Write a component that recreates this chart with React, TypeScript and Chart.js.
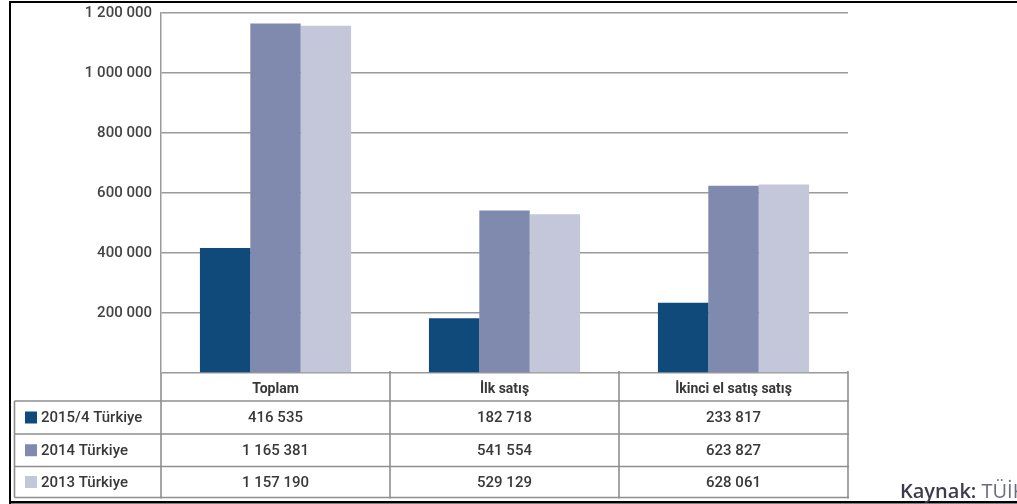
import React, { useEffect, useRef } from "react";
import { Chart, registerables } from "chart.js";

Chart.register(...registerables);

const categories = ["Toplam", "İlk satış", "İkinci el satış satış"];
const seriesLabels = ["2015/4 Türkiye", "2014 Türkiye", "2013 Türkiye"];
const values2015 = [416535, 182718, 233817];
const values2014 = [1165381, 541554, 623827];
const values2013 = [1157190, 529129, 628061];
const seriesColors = ["#0f4a7b", "#7f8aae", "#c4c7da"];
const yTicks = [0, 200000, 400000, 600000, 800000, 1000000, 1200000];
const sourceLabel = "Kaynak:";
const sourceName = "TÜİK";

const fmt = (n: number) => String(n).replace(/\B(?=(\d{3})+(?!\d))/g, " ");

const FONT = "Roboto, 'Open Sans', sans-serif";
const SRC_FONT = "'Open Sans', 'Noto Sans', sans-serif";

const tablePlugin = {
  id: "tablePlugin",
  afterDraw(chart: any) {
    const ctx = chart.ctx as CanvasRenderingContext2D;
    const area = chart.chartArea;
    const xs = chart.scales.x;
    const W = chart.width;
    const H = chart.height;
    const seriesValues = [values2015, values2014, values2013];
    const half = (xs.getPixelForValue(1) - xs.getPixelForValue(0)) / 2;
    const colEdges = [area.left];
    categories.forEach((_, i) => colEdges.push(xs.getPixelForValue(i) + half));

    const rowTop = 401;
    const rowLines = [401, 434, 466.5, 497.5];
    const tableLeft = 14.5;
    ctx.save();
    ctx.strokeStyle = "#8e8e8e";
    ctx.lineWidth = 1.6;
    rowLines.forEach((y) => {
      ctx.beginPath();
      ctx.moveTo(tableLeft, y);
      ctx.lineTo(colEdges[colEdges.length - 1] + 1, y);
      ctx.stroke();
    });
    ctx.beginPath();
    ctx.moveTo(tableLeft, rowTop);
    ctx.lineTo(tableLeft, rowLines[3]);
    ctx.stroke();
    colEdges.forEach((x, i) => {
      ctx.beginPath();
      ctx.moveTo(x, i === 0 ? area.bottom : area.bottom - 2);
      ctx.lineTo(x, rowLines[3] + 1);
      ctx.stroke();
    });

    ctx.fillStyle = "#383838";
    ctx.textAlign = "center";
    ctx.textBaseline = "middle";
    ctx.font = `700 14px ${FONT}`;
    categories.forEach((c, i) => {
      ctx.fillText(c, xs.getPixelForValue(i), (area.bottom + rowTop) / 2 + 2);
    });

    const rowCenters = [0, 1, 2].map((r) => (rowLines[r] + rowLines[r + 1]) / 2 + 1);
    ctx.font = `500 15px ${FONT}`;
    seriesValues.forEach((vals, r) => {
      vals.forEach((v, i) => {
        ctx.textAlign = "center";
        ctx.fillStyle = "#383838";
        ctx.fillText(fmt(v), xs.getPixelForValue(i), rowCenters[r]);
      });
      ctx.fillStyle = seriesColors[r];
      ctx.fillRect(25, rowCenters[r] - 7, 12, 12);
      ctx.fillStyle = "#383838";
      ctx.textAlign = "left";
      ctx.fillText(seriesLabels[r], 41, rowCenters[r]);
    });

    ctx.fillStyle = "#000000";
    ctx.fillRect(9, 1, W - 9, 2);
    ctx.fillRect(9, 1, 2, H - 1);
    ctx.fillRect(9, 501, W - 9, 2.5);

    ctx.textAlign = "left";
    ctx.textBaseline = "alphabetic";
    ctx.font = `600 20px ${SRC_FONT}`;
    ctx.fillStyle = "#3b3b4b";
    const x0 = 900;
    ctx.fillText(sourceLabel, x0, 498);
    const w = ctx.measureText(sourceLabel + " ").width;
    ctx.font = `400 20px ${SRC_FONT}`;
    ctx.fillStyle = "#6c6c80";
    ctx.fillText(sourceName, x0 + w, 498);
    ctx.restore();
  },
};

export default function App() {
  const ref = useRef<HTMLCanvasElement>(null);
  useEffect(() => {
    if (!ref.current) return;
    const chart = new Chart(ref.current, {
      type: "bar",
      data: {
        labels: categories,
        datasets: [
          { label: seriesLabels[0], data: values2015, backgroundColor: seriesColors[0] },
          { label: seriesLabels[1], data: values2014, backgroundColor: seriesColors[1] },
          { label: seriesLabels[2], data: values2013, backgroundColor: seriesColors[2] },
        ],
      },
      options: {
        animation: false,
        responsive: false,
        maintainAspectRatio: false,
        layout: { padding: { left: 0, top: 13, right: 169, bottom: 131 } },
        plugins: { legend: { display: false }, tooltip: { enabled: false } },
        datasets: { bar: { barPercentage: 1, categoryPercentage: 0.66 } },
        scales: {
          x: { display: false },
          y: {
            min: 0,
            max: 1200000,
            afterFit: (s: any) => {
              s.width = 161;
              s.paddingTop = 0;
              s.paddingBottom = 0;
            },
            afterBuildTicks: (s: any) => {
              s.ticks = yTicks.map((v) => ({ value: v }));
            },
            grid: { color: "#9a9a9a", lineWidth: 1.5, drawTicks: false },
            border: { display: true, color: "#9a9a9a", width: 1.5 },
            ticks: {
              padding: 9,
              color: "#444444",
              font: { family: FONT, size: 15, weight: "500" },
              callback: (v: any) => (Number(v) === 0 ? "" : fmt(Number(v))),
            },
          },
        },
      },
      plugins: [tablePlugin],
    });
    return () => chart.destroy();
  }, []);
  return (
    <div style={{ position: "fixed", left: 0, top: 0, width: 1017, height: 504, background: "#fff" }}>
      <canvas ref={ref} width={1017} height={504} style={{ width: 1017, height: 504, display: "block" }} />
    </div>
  );
}
